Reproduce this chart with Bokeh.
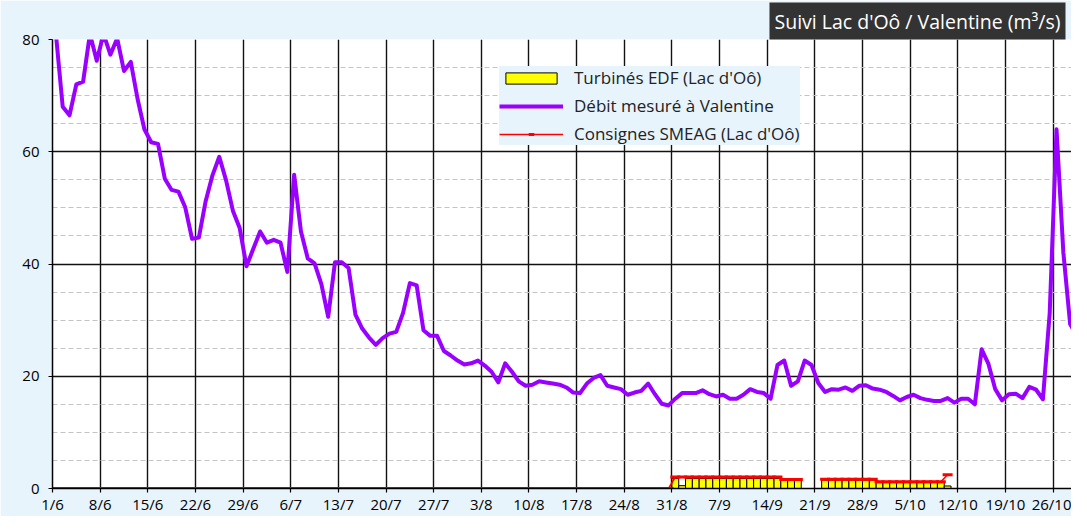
import math
from bokeh.plotting import figure
from bokeh.models import Range1d, FixedTicker, Legend, LegendItem
from bokeh.embed import file_html
from bokeh.resources import INLINE

NaN = float("nan")

# ---- data (day offsets counted from 1 June) ----
week_labels = ["1/6", "8/6", "15/6", "22/6", "29/6", "6/7", "13/7", "20/7", "27/7",
               "3/8", "10/8", "17/8", "24/8", "31/8", "7/9", "14/9", "21/9", "28/9",
               "5/10", "12/10", "19/10", "26/10"]
week_days = [0, 7, 14, 21, 28, 35, 42, 49, 56, 63, 70, 77, 84, 91, 98, 105, 112,
             119, 126, 133, 140, 147]

y_major = [0, 20, 40, 60, 80]
y_minor = [5, 10, 15, 25, 30, 35, 45, 50, 55, 65, 70, 75]

# Débit mesuré à Valentine, daily from 1/6
debit_valentine = [
    81.0, 68.0, 66.5, 72.0, 72.5, 81.0, 76.2, 81.0, 77.3, 80.2,
    74.4, 76.0, 69.4, 64.0, 61.7, 61.4, 55.2, 53.2, 52.9, 50.1,
    44.5, 44.7, 51.2, 55.8, 59.1, 54.9, 49.5, 46.4, 39.6, 42.7,
    45.8, 43.8, 44.3, 43.8, 38.6, 55.9, 45.8, 41.0, 40.1, 36.4,
    30.6, 40.3, 40.3, 39.3, 31.0, 28.5, 26.9, 25.6, 26.8, 27.6,
    27.9, 31.3, 36.6, 36.2, 28.2, 27.2, 27.2, 24.5, 23.7, 22.8,
    22.1, 22.3, 22.8, 21.9, 20.8, 18.9, 22.3, 20.8, 19.1, 18.3,
    18.5, 19.1, 18.9, 18.7, 18.5, 18.0, 17.1, 17.0, 18.7, 19.7,
    20.2, 18.3, 18.0, 17.7, 16.7, 17.1, 17.4, 18.7, 16.8, 15.1,
    14.8, 16.0, 17.0, 17.0, 17.0, 17.5, 16.8, 16.4, 16.7, 16.0,
    16.0, 16.7, 17.7, 17.2, 17.0, 16.0, 22.0, 22.8, 18.3, 19.1,
    22.8, 22.0, 18.8, 17.2, 17.7, 17.6, 18.0, 17.4, 18.3, 18.4,
    17.8, 17.6, 17.2, 16.5, 15.7, 16.3, 16.7, 16.1, 15.8, 15.6,
    15.6, 16.1, 15.3, 16.0, 16.0, 15.0, 24.8, 22.2, 17.7, 15.7,
    16.8, 16.9, 16.1, 18.1, 17.6, 15.9, 31.3, 64.0, 42.1, 29.3,
    27.1, 19.4,
]

# Consignes SMEAG (Lac d'Oô), daily from 1/6
consignes_smeag = [
    0, 0, 0, 0, 0, 0, 0, 0, 0, 0,
    0, 0, 0, 0, 0, 0, 0, 0, 0, 0,
    0, 0, 0, 0, 0, 0, 0, 0, 0, 0,
    0, 0, 0, 0, 0, 0, 0, 0, 0, 0,
    0, 0, 0, 0, 0, 0, 0, 0, 0, 0,
    0, 0, 0, 0, 0, 0, 0, 0, 0, 0,
    0, 0, 0, 0, 0, 0, 0, 0, 0, 0,
    0, 0, 0, 0, 0, 0, 0, 0, 0, 0,
    0, 0, 0, 0, 0, 0, 0, 0, 0, 0,
    0, 2.05, 2.05, 2.05, 2.05, 2.05, 2.05, 2.05, 2.05, 2.05,
    2.05, 2.05, 2.05, 2.05, 2.05, 2.05, 2.05, 1.6, 1.6, 1.6,
    NaN, NaN, NaN, 1.65, 1.65, 1.65, 1.65, 1.65, 1.65, 1.65,
    1.65, 1.2, 1.2, 1.2, 1.2, 1.2, 1.2, 1.2, 1.2, 1.2,
    1.2, 2.45,
]

# Turbinés EDF (Lac d'Oô), daily from 31/8
turbines_first_day = 91
turbines_edf = [
    1.8, 0.5, 1.8, 1.8, 1.8, 1.8, 1.8, 1.8, 1.8, 1.8,
    1.8, 1.8, 1.8, 1.8, 1.8, 1.8, 1.45, 1.45, 1.45, NaN,
    NaN, NaN, 1.5, 1.5, 1.5, 1.5, 1.5, 1.5, 1.5, 1.5,
    1.05, 1.05, 1.05, 1.05, 1.05, 1.05, 1.05, 1.05, 1.05, 1.05,
    0.45,
]

FONT = "Open Sans"
BG = "#e8f4fc"

p = figure(width=1071, height=516, output_backend="svg", toolbar_location=None,
           x_range=Range1d(0, 149.7), y_range=Range1d(0, 80),
           min_border_left=52, min_border_right=0, min_border_top=38, min_border_bottom=0,
           background_fill_color="white", border_fill_color=BG, outline_line_color=None,
           title="Suivi Lac d'Oô / Valentine (m³/s)")

p.title.align = "right"
p.title.offset = 6
p.title.standoff = 0
p.title.text_font = FONT
p.title.text_font_size = "19.5px"
p.title.text_font_style = "normal"
p.title.text_color = "white"
p.title.background_fill_color = "#333333"
p.title.background_fill_alpha = 1
p.title.padding = 5

# axes
p.xaxis.ticker = FixedTicker(ticks=week_days)
p.xaxis.major_label_overrides = dict(zip(week_days, week_labels))
p.yaxis.ticker = FixedTicker(ticks=y_major, minor_ticks=y_minor)
for ax in (p.xaxis, p.yaxis):
    ax.axis_line_color = "black"
    ax.axis_line_width = 1.5
    ax.major_tick_line_color = "black"
    ax.major_tick_line_width = 1.2
    ax.major_tick_in = 0
    ax.major_tick_out = 4
    ax.minor_tick_line_color = None
    ax.major_label_text_font = FONT
    ax.major_label_text_font_size = "15px"
    ax.major_label_text_color = "black"
p.xaxis.major_label_standoff = 1
p.yaxis.major_label_standoff = 9

# grids
p.xgrid.grid_line_color = "#111111"
p.xgrid.grid_line_width = 1.4
p.ygrid.ticker = FixedTicker(ticks=y_major, minor_ticks=y_minor)
p.ygrid.grid_line_color = "#111111"
p.ygrid.grid_line_width = 1.4
p.ygrid.minor_grid_line_color = "#c4c4c4"
p.ygrid.minor_grid_line_width = 1.2
p.ygrid.minor_grid_line_dash = "5 3"

# series
tx = [turbines_first_day + i + 0.5 for i in range(len(turbines_edf))]
bars = p.vbar(x=tx, top=turbines_edf, bottom=0, width=1,
              fill_color="#ffff00", line_color="black", line_width=1)

cx = [i + 0.5 for i in range(len(consignes_smeag))]
red_line = p.line(x=cx, y=consignes_smeag, line_color="#ff0000", line_width=1.5)
red_marks = p.scatter(x=cx, y=consignes_smeag, marker="dash", size=10,
                      line_color="#ff0000", line_width=3)

dx = [i + 0.5 for i in range(len(debit_valentine))]
purple = p.line(x=dx, y=debit_valentine, line_color="#9900ff", line_width=4,
                line_join="round")

legend = Legend(items=[
    LegendItem(label="Turbinés EDF (Lac d'Oô)", renderers=[bars]),
    LegendItem(label="Débit mesuré à Valentine", renderers=[purple]),
    LegendItem(label="Consignes SMEAG (Lac d'Oô)", renderers=[red_line, red_marks]),
], location=(447, 343))
legend.background_fill_color = BG
legend.background_fill_alpha = 1
legend.border_line_color = None
legend.padding = 10
legend.margin = 0
legend.spacing = 5
legend.label_height = 20
legend.glyph_height = 14
legend.glyph_width = 64
legend.label_standoff = 11
legend.label_text_font = FONT
legend.label_text_font_size = "17px"
legend.label_text_color = "#222222"
p.add_layout(legend)

open("out.html", "w").write(file_html(p, INLINE))
